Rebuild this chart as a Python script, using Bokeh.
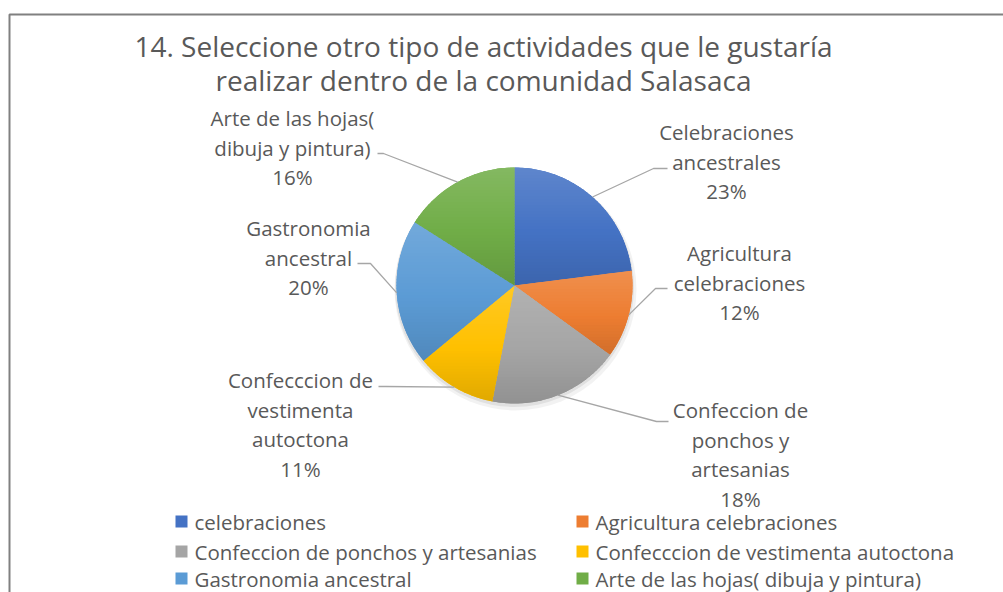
import math
from bokeh.plotting import figure
from bokeh.models import Range1d, ColumnDataSource
from bokeh.core.properties import value
from bokeh.embed import file_html
from bokeh.resources import INLINE

# ---------------- data ----------------
title_lines = ["14. Seleccione otro tipo de actividades que le gustaría",
               "realizar dentro de la comunidad Salasaca"]
legend_names = ["celebraciones",
                "Agricultura celebraciones",
                "Confeccion de ponchos y artesanias",
                "Confecccion de vestimenta autoctona",
                "Gastronomia ancestral",
                "Arte de las hojas( dibuja y pintura)"]
label_names = ["Celebraciones\nancestrales",
               "Agricultura\ncelebraciones",
               "Confeccion de\nponchos y\nartesanias",
               "Confecccion de\nvestimenta\nautoctona",
               "Gastronomia\nancestral",
               "Arte de las hojas(\ndibuja y pintura)"]
percent = [23, 12, 18, 11, 20, 16]

# ---------------- styles / layout ----------------
colors = ["#4472C4", "#ED7D31", "#A5A5A5", "#FFC000", "#5B9BD5", "#70AD47"]
TXT = "#595959"
FONT = "Open Sans"
W, H = 1003, 592

def Y(iy):  # page row -> data y
    return H - iy

cx, cy, R = 514, Y(285), 118
LINE = 29.5
label_pos = [(726, 161), (739, 282), (740, 454), (300, 424), (308, 257), (292, 147)]
elbows = [((653, 168), (667, 168)),
          ((655, 288), (667, 288)),
          ((656, 421), (668, 421)),
          ((385, 386), (378, 386)),
          ((370, 263), (357, 263)),
          ((383, 153), (377, 153))]

p = figure(width=W, height=H, x_range=Range1d(0, W), y_range=Range1d(0, H),
           output_backend="svg", toolbar_location=None, min_border=0,
           x_axis_location=None, y_axis_location=None)
p.grid.visible = False
p.outline_line_color = None
p.background_fill_color = "white"
p.border_fill_color = "white"

# chart border: left and top edges (the rest lies beyond the picture)
p.line(x=[9, 9, W + 5], y=[Y(H + 5), Y(14), Y(14)], line_color="#808080", line_width=2)

# pie angles
total = float(sum(percent))
starts, ends, mids = [], [], []
cum = 0.0
for v in percent:
    a0 = math.pi / 2 - 2 * math.pi * cum / total
    a1 = math.pi / 2 - 2 * math.pi * (cum + v) / total
    starts.append(a1)
    ends.append(a0)
    mids.append((a0 + a1) / 2)
    cum += v

# soft shadow
p.circle(x=[cx + 1], y=[cy - 4], radius=R + 3, fill_color="#000000", fill_alpha=0.05, line_color=None)
p.circle(x=[cx], y=[cy - 2], radius=R + 1.5, fill_color="#000000", fill_alpha=0.07, line_color=None)

# base wedges
src = ColumnDataSource(dict(start=starts, end=ends, color=colors))
p.wedge(x=cx, y=cy, radius=R, start_angle="start", end_angle="end",
        fill_color="color", line_color=None, source=src)

# vertical gradient shading per slice (lighter at top, darker at bottom)
def hex2rgb(h):
    h = h.lstrip("#")
    return [int(h[i:i + 2], 16) for i in (0, 2, 4)]

def mix(rgb, t):  # t>0 lighten toward white, t<0 darken toward black
    if t >= 0:
        return tuple(int(round(c + (255 - c) * t)) for c in rgb)
    return tuple(int(round(c * (1 + t))) for c in rgb)

def clip(poly, y0, y1):
    def clip_one(pts, keep, inter):
        out = []
        for i in range(len(pts)):
            a, b = pts[i - 1], pts[i]
            ka, kb = keep(a), keep(b)
            if kb:
                if not ka:
                    out.append(inter(a, b))
                out.append(b)
            elif ka:
                out.append(inter(a, b))
        return out

    def ix(yv):
        def f(a, b):
            t = (yv - a[1]) / (b[1] - a[1])
            return (a[0] + t * (b[0] - a[0]), yv)
        return f
    pts = clip_one(poly, lambda q: q[1] >= y0, ix(y0))
    if not pts:
        return []
    return clip_one(pts, lambda q: q[1] <= y1, ix(y1))

gx, gy, gc = [], [], []
for s, e, col in zip(starts, ends, colors):
    n = max(8, int((e - s) * 60))
    poly = [(cx, cy)] + [(cx + R * math.cos(s + (e - s) * k / n), cy + R * math.sin(s + (e - s) * k / n))
                         for k in range(n + 1)]
    ymin = min(q[1] for q in poly)
    ymax = max(q[1] for q in poly)
    rgb = hex2rgb(col)
    step = 3.0
    y = ymin
    while y < ymax:
        band = clip(poly, y - 0.4, min(y + step + 0.4, ymax))
        if len(band) >= 3:
            frac = ((y + step / 2) - ymin) / max(ymax - ymin, 1)  # 0 bottom .. 1 top
            t = -0.12 + 0.26 * frac
            c = mix(rgb, t)
            gx.append([q[0] for q in band])
            gy.append([q[1] for q in band])
            gc.append("#%02x%02x%02x" % c)
        y += step
p.patches(xs=gx, ys=gy, fill_color=gc, line_color=None)

# leader lines
xs, ys = [], []
for m, (e1, e2) in zip(mids, elbows):
    xs.append([cx + R * math.cos(m), e1[0], e2[0]])
    ys.append([cy + R * math.sin(m), Y(e1[1]), Y(e2[1])])
p.multi_line(xs=xs, ys=ys, line_color="#A6A6A6", line_width=1.3)

# data labels, one text per line
lx, ly, lt = [], [], []
for name, v, (px, py) in zip(label_names, percent, label_pos):
    lines = name.split("\n") + [f"{v}%"]
    n = len(lines)
    for i, s in enumerate(lines):
        lx.append(px)
        ly.append(Y(py + (i - (n - 1) / 2) * LINE))
        lt.append(s)
p.text(x=lx, y=ly, text=lt, text_align="center", text_baseline="middle", text_color=TXT,
       text_font=value(FONT), text_font_size="20.5px")

# title
p.text(x=[483, 483], y=[Y(45), Y(79)], text=title_lines,
       text_align="center", text_baseline="middle", text_color=TXT,
       text_font=value(FONT), text_font_size="28px")

# legend
col_x = [175, 576]
row_y = [521, 551, 578]
mx, my, tx, ty = [], [], [], []
for i, name in enumerate(legend_names):
    c, r = i % 2, i // 2
    mx.append(col_x[c] + 6)
    my.append(Y(row_y[r]))
    tx.append(col_x[c] + 19)
    ty.append(Y(row_y[r]))
p.rect(x=mx, y=my, width=12, height=12, fill_color=colors, line_color=None)
p.text(x=tx, y=ty, text=legend_names, text_align="left", text_baseline="middle",
       text_color=TXT, text_font=value(FONT), text_font_size="20.5px")

open("out.html", "w").write(file_html(p, INLINE))
